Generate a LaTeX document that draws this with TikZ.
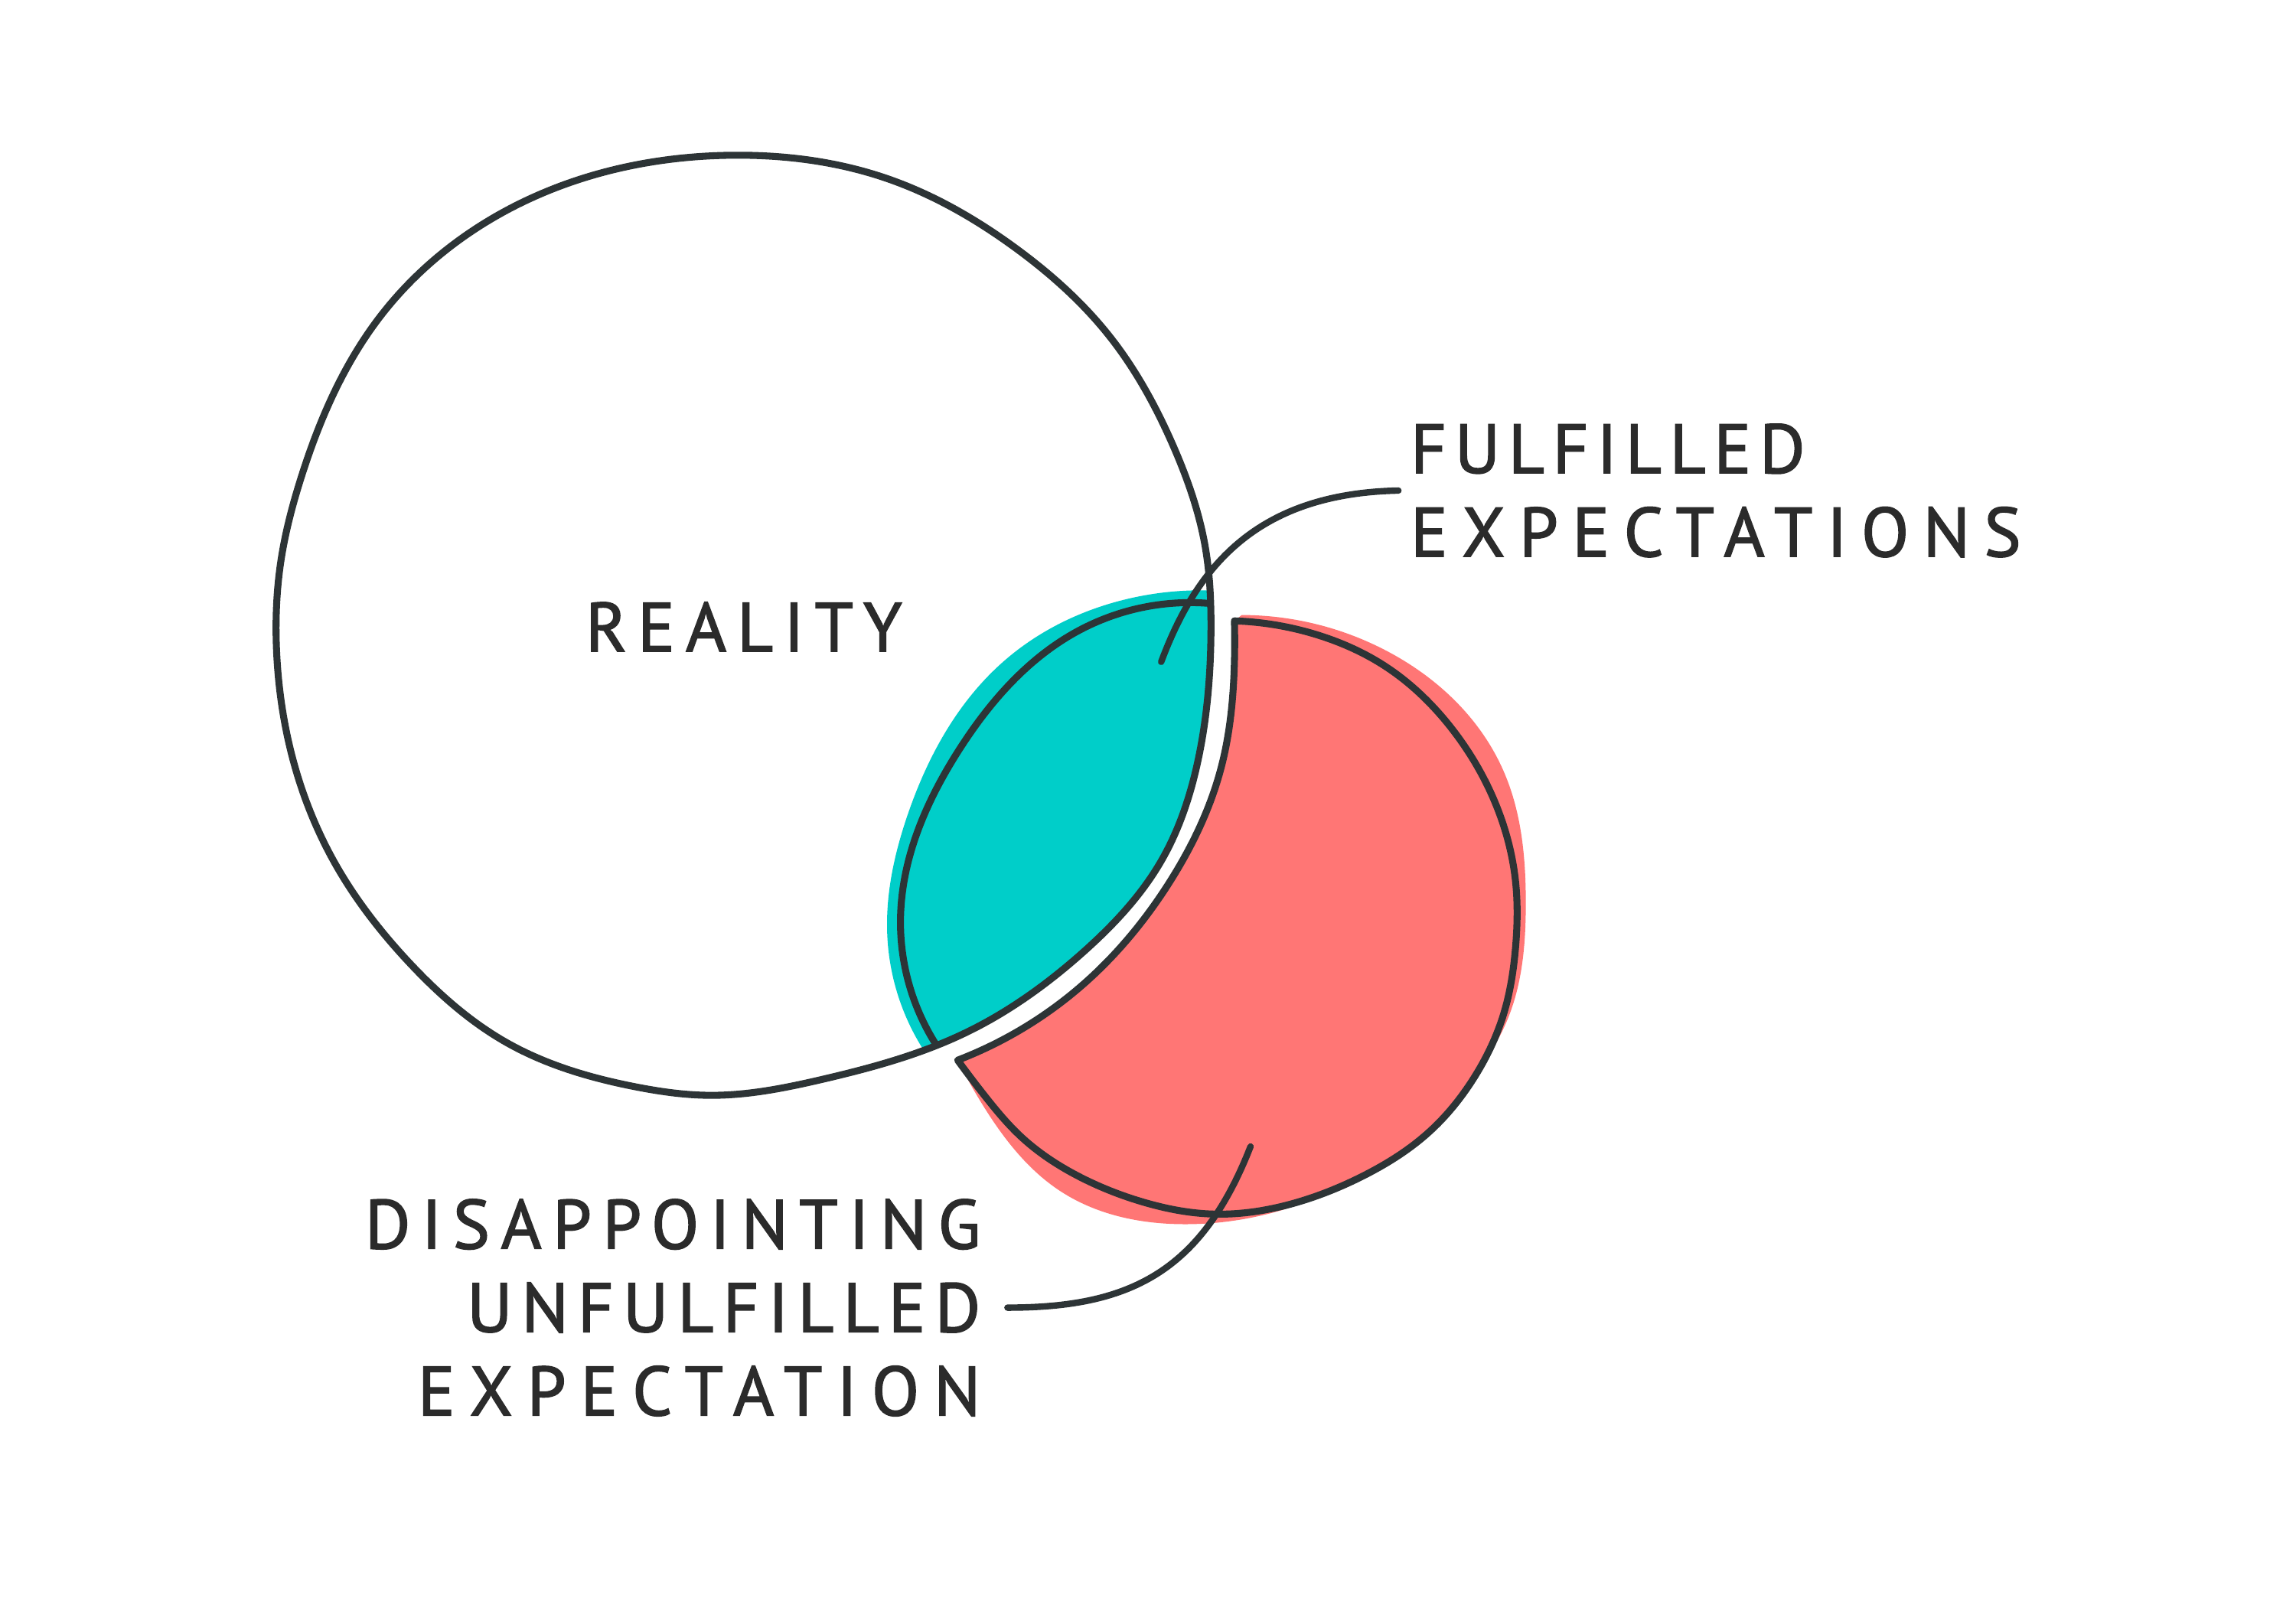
\documentclass[tikz,border=0pt]{standalone}
\usepackage{fontspec}
\setmainfont{PT Sans}
\usetikzlibrary{hobby}
\definecolor{ink}{HTML}{2D3436}
\definecolor{txt}{HTML}{2B2B2B}
\definecolor{tealfill}{HTML}{00CEC9}
\definecolor{redfill}{HTML}{FF7675}
\newcommand\spacedword[2]{{\addfontfeature{LetterSpace=#1}#2}}
\tikzset{
  outline/.style={draw=ink, line width=2.7pt, line cap=round, line join=round},
  leader/.style={draw=ink, line width=2.5pt, line cap=round},
  lbl/.style={text=txt, inner sep=0pt,
    font=\fontsize{27}{32.4}\selectfont\addfontfeature{FakeBold=1.8}},
}
\begin{document}
\begin{tikzpicture}[x=0.02cm, y=-0.02cm]
\useasboundingbox (0,0) rectangle (1568,1098);
\fill[white] (0,0) rectangle (1568,1098);

% teal fill, clipped by reality interior
\begin{scope}
\clip plot[closed hobby] coordinates {(502,106) (606,122) (693,169) (758,230) (801,304) (823,373) (827,430) (818,520) (793,588) (740,650) (660,705) (562,737) (485,748) (433,742) (346,712) (281,659) (229,590) (203,529) (189,447) (192,382) (206,325) (259,217) (355,139)};
\fill[tealfill] (840,404) -- plot[hobby] coordinates {(840,404) (770,409) (685,452) (620,556) (606,640) (634,722)} -- (700,780) -- (950,700) -- (950,380) -- cycle;
\end{scope}

% red fill
\fill[redfill] (848,420) -- plot[hobby] coordinates {(848,420) (946,444) (1027,527) (1042,617) (1030,695) (1006,737) (976,773) (931,803) (886,823) (811,836) (725,814) (672,756) (654,724)}
  -- plot[hobby] coordinates {(654,724) (740,672) (799,602) (834,524) (843,452) (843,424)} -- cycle;

% reality outline
\draw[outline] plot[closed hobby] coordinates {(502,106) (606,122) (693,169) (758,230) (801,304) (823,373) (827,430) (818,520) (793,588) (740,650) (660,705) (562,737) (485,748) (433,742) (346,712) (281,659) (229,590) (203,529) (189,447) (192,382) (206,325) (259,217) (355,139)};

% teal outline arc
\draw[outline] plot[hobby] coordinates {(825,412) (736,431) (655,512) (615,626) (639,713)};

% red outline
\draw[outline] (843,424) -- plot[hobby] coordinates {(843,424) (901,434) (946,455) (991,497) (1021,548) (1035,602) (1035,647) (1027,692) (1006,737) (976,773) (931,803) (886,821) (826,829) (781,821) (736,803) (697,776) (673,749) (654,724)}
  -- plot[hobby] coordinates {(654,724) (740,672) (799,602) (834,524) (843,452) (843,424)} -- cycle;

% labels
\node[lbl] (reality) at (508,428) {\spacedword{15.5}{REALITY}};
\node[lbl, anchor=west, align=left] (ful) at (963,335) {\spacedword{12}{FULFILLED}\\\spacedword{20.5}{EXPECTATIONS}};
\node[lbl, anchor=east, align=right] (dis) at (670,893) {\spacedword{16}{DISAPPOINTING}\\\spacedword{13.5}{UNFULFILLED}\\\spacedword{21}{EXPECTATION}};

% leader points
\coordinate (fe) at (793,452);
\coordinate (de) at (854,783);
\draw[leader] (fe) .. controls (818,385) and (860,337) .. ([xshift=-0.16cm]ful.west);
\draw[leader] (de) .. controls (820,870) and (770,893) .. ([xshift=0.36cm]dis.east);
\end{tikzpicture}
\end{document}
